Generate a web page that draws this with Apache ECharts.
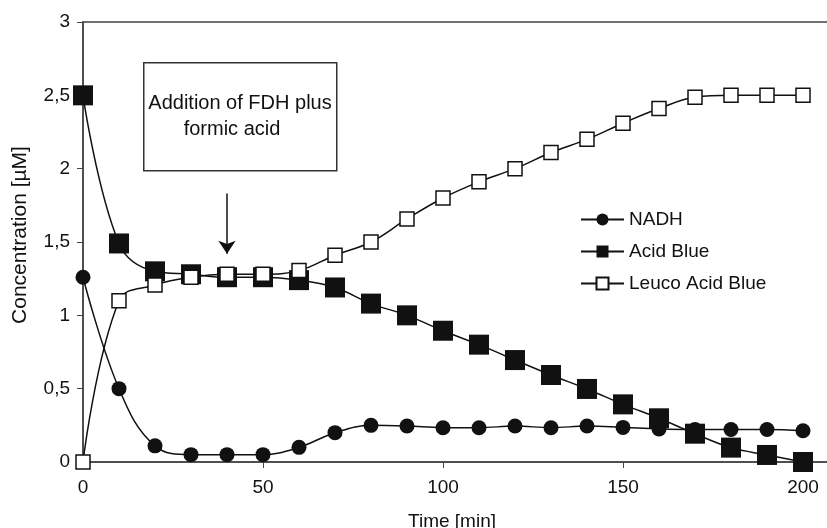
<!DOCTYPE html>
<html>
<head>
<meta charset="utf-8">
<script src="https://cdn.jsdelivr.net/npm/echarts@6/dist/echarts.min.js"></script>
<style>
  html, body { margin: 0; padding: 0; background: #fff; }
  #chart { width: 827px; height: 528px; }
</style>
</head>
<body>
<div id="chart"></div>
<script>
// time points [min]
let times = [0, 10, 20, 30, 40, 50, 60, 70, 80, 90, 100, 110, 120, 130, 140, 150, 160, 170, 180, 190, 200];
// concentrations [µM]
let nadh = [1.26, 0.5, 0.11, 0.05, 0.05, 0.05, 0.1, 0.2, 0.25, 0.245, 0.234, 0.234, 0.245, 0.234, 0.245, 0.236, 0.225, 0.222, 0.222, 0.222, 0.213];
let acidBlue = [2.5, 1.49, 1.3, 1.28, 1.26, 1.26, 1.24, 1.19, 1.08, 1.0, 0.895, 0.8, 0.695, 0.593, 0.498, 0.393, 0.298, 0.193, 0.098, 0.048, 0.0];
let leuco = [0, 1.1, 1.207, 1.26, 1.28, 1.28, 1.305, 1.41, 1.5, 1.657, 1.8, 1.91, 2.0, 2.11, 2.2, 2.31, 2.41, 2.487, 2.5, 2.5, 2.5];
let seriesNames = ['NADH', 'Acid Blue', 'Leuco Acid Blue'];
let noteLines = ['Addition of FDH plus', 'formic acid'];
let arrowAt = { t: 40, from: 1.83, to: 1.42 };

const FONT = 'Liberation Sans, Arial, sans-serif';
const INK = '#111';

function pairs(ys) {
  return times.map(function (t, i) { return [t, ys[i]]; });
}

let chart = echarts.init(document.getElementById('chart'));
let option = {
  animation: false,
  backgroundColor: '#fff',
  textStyle: { fontFamily: FONT, color: INK },
  grid: {
    left: 83, top: 22, width: 756, bottom: 66,
    outerBoundsMode: 'none', containLabel: false,
    show: true, borderColor: '#444', borderWidth: 1.5
  },
  legend: {
    orient: 'vertical',
    left: 575, top: 205,
    itemWidth: 43, itemHeight: 15, itemGap: 13,
    textStyle: { fontFamily: FONT, fontSize: 19, color: INK },
    data: seriesNames
  },
  xAxis: {
    type: 'value', min: 0, max: 210, interval: 50,
    name: 'Time [min]', nameLocation: 'middle', nameGap: 50,
    nameTextStyle: { fontFamily: FONT, fontSize: 19, color: INK, padding: [0, 18, 0, 0] },
    axisLine: { lineStyle: { color: '#444', width: 1.5 } },
    axisTick: { length: 6, lineStyle: { color: '#444' } },
    axisLabel: {
      fontFamily: FONT, fontSize: 19, color: INK, margin: 16,
      formatter: function (v) { return v > 200 ? '' : String(v); }
    },
    splitLine: { show: false }
  },
  yAxis: {
    type: 'value', min: 0, max: 3, interval: 0.5,
    name: 'Concentration [µM]', nameLocation: 'middle', nameGap: 52,
    nameTextStyle: { fontFamily: FONT, fontSize: 21, color: INK, padding: [0, 0, 0, 14] },
    axisLine: { show: true, lineStyle: { color: '#444', width: 1.5 } },
    axisTick: { show: true, length: 6, lineStyle: { color: '#444' } },
    axisLabel: {
      fontFamily: FONT, fontSize: 19, color: INK, margin: 13,
      formatter: function (v) { return String(v).replace('.', ','); }
    },
    splitLine: { show: false }
  },
  series: [
    {
      name: seriesNames[0], type: 'line', smooth: 0.4,
      symbol: 'circle', symbolSize: 15, showAllSymbol: true,
      itemStyle: { color: INK },
      lineStyle: { color: INK, width: 1.5 },
      data: pairs(nadh),
      markLine: {
        silent: true, animation: false,
        symbol: ['none', 'arrow'], symbolSize: 13,
        label: { show: false },
        lineStyle: { color: INK, width: 1.5, type: 'solid' },
        data: [[{ coord: [arrowAt.t, arrowAt.from] }, { coord: [arrowAt.t, arrowAt.to] }]]
      }
    },
    {
      name: seriesNames[1], type: 'line', smooth: 0.4,
      symbol: 'rect', symbolSize: 20, showAllSymbol: true,
      itemStyle: { color: INK },
      lineStyle: { color: INK, width: 1.5 },
      data: pairs(acidBlue)
    },
    {
      name: seriesNames[2], type: 'line', smooth: 0.4,
      symbol: 'rect', symbolSize: 14, showAllSymbol: true,
      itemStyle: { color: '#fff', borderColor: INK, borderWidth: 1.5 },
      lineStyle: { color: INK, width: 1.5 },
      data: pairs(leuco)
    }
  ],
  graphic: [
    {
      type: 'rect', left: 143, top: 62, z: 10,
      shape: { width: 193, height: 108 },
      style: { fill: '#fff', stroke: '#333', lineWidth: 1.5 }
    },
    {
      type: 'text', x: 240, y: 103, z: 11,
      style: { text: noteLines[0], font: '20px ' + FONT, fill: INK, textAlign: 'center', textVerticalAlign: 'middle' }
    },
    {
      type: 'text', x: 232, y: 129, z: 11,
      style: { text: noteLines[1], font: '20px ' + FONT, fill: INK, textAlign: 'center', textVerticalAlign: 'middle' }
    }
  ]
};
chart.setOption(option);
</script>
</body>
</html>
